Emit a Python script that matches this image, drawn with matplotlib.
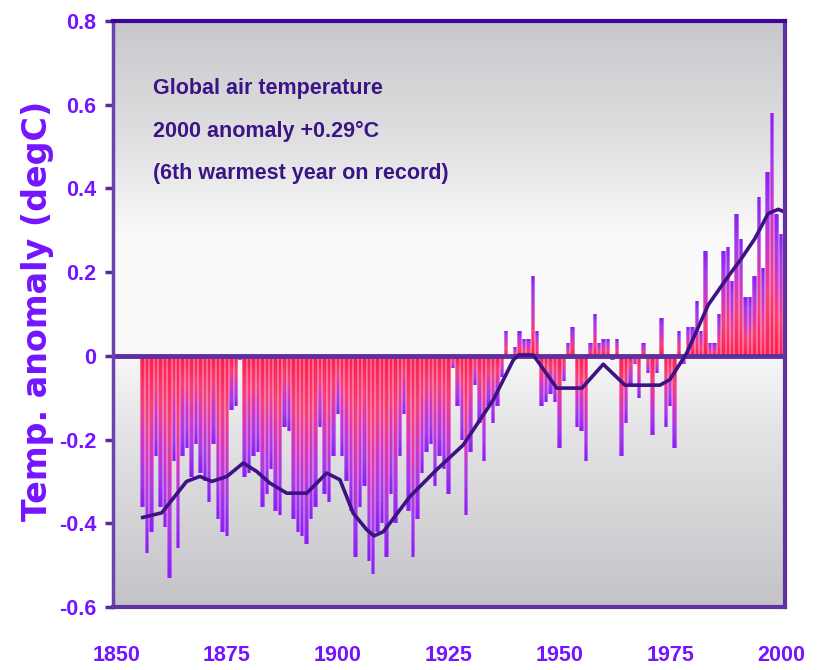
import numpy as np
import matplotlib
matplotlib.use("Agg")
import matplotlib.pyplot as plt
from matplotlib.collections import PolyCollection
from matplotlib.colors import LinearSegmentedColormap

# annual global anomalies (degC), 1856-2000
years = np.arange(1856, 2001)
anomaly = [
    -0.36, -0.47, -0.42, -0.24, -0.36, -0.41, -0.53, -0.25, -0.46, -0.24,   # 1856-65
    -0.22, -0.29, -0.21, -0.28, -0.30, -0.35, -0.21, -0.39, -0.42, -0.43,   # 1866-75
    -0.13, -0.12, -0.01, -0.29, -0.28, -0.24, -0.23, -0.36, -0.33, -0.27,   # 1876-85
    -0.37, -0.38, -0.17, -0.18, -0.39, -0.42, -0.43, -0.45, -0.39, -0.36,   # 1886-95
    -0.17, -0.33, -0.35, -0.24, -0.14, -0.24, -0.30, -0.37, -0.48, -0.36,   # 1896-1905
    -0.31, -0.49, -0.52, -0.42, -0.40, -0.48, -0.33, -0.40, -0.24, -0.14,   # 1906-15
    -0.37, -0.48, -0.39, -0.28, -0.23, -0.21, -0.31, -0.24, -0.27, -0.33,   # 1916-25
    -0.03, -0.12, -0.20, -0.38, -0.23, -0.07, -0.16, -0.25, -0.12, -0.16,   # 1926-35
    -0.12, -0.05, 0.06, 0.00, 0.02, 0.06, 0.04, 0.04, 0.19, 0.06,           # 1936-45
    -0.12, -0.11, -0.09, -0.11, -0.22, -0.06, 0.03, 0.07, -0.17, -0.18,     # 1946-55
    -0.25, 0.03, 0.10, 0.03, 0.04, 0.04, -0.01, 0.04, -0.24, -0.16,         # 1956-65
    -0.07, -0.02, -0.10, 0.03, -0.04, -0.19, -0.04, 0.09, -0.17, -0.12,     # 1966-75
    -0.22, 0.06, -0.02, 0.07, 0.07, 0.13, 0.06, 0.25, 0.03, 0.03,           # 1976-85
    0.10, 0.25, 0.26, 0.18, 0.34, 0.28, 0.14, 0.14, 0.19, 0.38,             # 1986-95
    0.21, 0.44, 0.58, 0.34, 0.29,                                           # 1996-2000
]

# smoothed curve, read as vertices
smooth_years = [1856, 1860.3, 1865.9, 1868.9, 1871.6, 1875.0, 1878.7, 1881.7,
                1884.7, 1888.5, 1893.0, 1897.5, 1900.5, 1903.5, 1906.6, 1908.2,
                1910.3, 1916.3, 1922.3, 1928.3, 1935.1, 1939.6, 1940.8, 1944.1,
                1945.6, 1949.4, 1955.1, 1959.9, 1964.8, 1972.7, 1974.9, 1978.7,
                1983.6, 1988.1, 1991.1, 1994.1, 1997.1, 1999.4, 2000.5]
smooth_vals = [-0.386, -0.375, -0.30, -0.288, -0.30, -0.288, -0.256, -0.276,
               -0.304, -0.328, -0.328, -0.28, -0.296, -0.376, -0.416, -0.43,
               -0.42, -0.336, -0.272, -0.213, -0.105, -0.01, 0.002, 0.002,
               -0.02, -0.077, -0.077, -0.02, -0.07, -0.07, -0.057, 0.006,
               0.122, 0.19, 0.233, 0.28, 0.34, 0.35, 0.345]

xticks = [1850, 1875, 1900, 1925, 1950, 1975, 2000]
yticks = [-0.6, -0.4, -0.2, 0, 0.2, 0.4, 0.6, 0.8]
ytick_labels = ["-0.6", "-0.4", "-0.2", "0", "0.2", "0.4", "0.6", "0.8"]
notes = ["Global air temperature", "2000 anomaly +0.29\u00b0C",
         "(6th warmest year on record)"]

LABEL_COL = "#7514ff"
NOTE_COL = "#3b1585"
FONT = ["Liberation Sans", "DejaVu Sans"]

assert len(anomaly) == len(years)

fig = plt.figure(figsize=(8.2, 6.7), dpi=100, facecolor="white")
ax = fig.add_axes([0.1378, 0.094, 0.8195, 0.8747])

xlo, xhi = 1849.3, 2000.9
ylo, yhi = -0.6, 0.8

# grey-white-grey background
bg_cmap = LinearSegmentedColormap.from_list(
    "bg", [(0.0, "#c4c4c8"), (0.3, "#e4e4e6"), (0.45, "#fafafa"),
           (0.62, "#fbfbfb"), (0.78, "#e2e2e4"), (1.0, "#c8c8cc")])
grad = np.linspace(0, 1, 256).reshape(-1, 1)
ax.imshow(grad, cmap=bg_cmap, extent=[xlo, xhi, ylo, yhi], origin="lower",
          aspect="auto", zorder=0, interpolation="bilinear")

# bar colours run red at the zero line to violet at the tip
bar_cmap = LinearSegmentedColormap.from_list(
    "bar", [(0.0, "#ff1d4e"), (0.3, "#f5407c"), (0.55, "#d236c4"),
            (0.8, "#a43ae8"), (1.0, "#8a1ef2")])
n_seg = 24
fracs = np.linspace(0, 1, n_seg + 1)
seg_cols = bar_cmap((fracs[:-1] + fracs[1:]) / 2)[:, :3]
pale_cols = seg_cols + (1 - seg_cols) * 0.3


def bar_segments(width):
    polys = []
    for yr, val in zip(years, anomaly):
        for k in range(n_seg):
            y0, y1 = val * fracs[k], val * fracs[k + 1]
            x0, x1 = yr - width / 2, yr + width / 2
            polys.append([(x0, y0), (x1, y0), (x1, y1), (x0, y1)])
    return polys


# lighter full-width bar with a narrower saturated core on top
ax.add_collection(PolyCollection(bar_segments(1.0),
                                 facecolors=np.tile(pale_cols, (len(years), 1)),
                                 edgecolors="none", antialiased=True, zorder=2))
ax.add_collection(PolyCollection(bar_segments(0.55),
                                 facecolors=np.tile(seg_cols, (len(years), 1)),
                                 edgecolors="none", antialiased=True, zorder=2.1))

ax.axhline(0, color="#5f2f9e", lw=3.5, zorder=3)
ax.plot(smooth_years, smooth_vals, color="#3d1284", lw=2.6, zorder=4,
        solid_joinstyle="round")

ax.set_xlim(xlo, xhi)
ax.set_ylim(ylo, yhi)

for name, col, lw in [("left", "#6b42b2", 2.5), ("top", "#3a0898", 3.0),
                      ("right", "#6232a4", 3.0), ("bottom", "#6232a4", 3.0)]:
    ax.spines[name].set_color(col)
    ax.spines[name].set_linewidth(lw)
    ax.spines[name].set_zorder(5)

ax.set_yticks(yticks)
ax.set_yticklabels(ytick_labels)
ax.set_xticks(xticks)
ax.set_xticklabels([str(x) for x in xticks])
ax.tick_params(axis="y", direction="out", length=6, width=2.5, color="#5a2a9a",
               pad=6, labelcolor=LABEL_COL)
ax.tick_params(axis="x", length=0, pad=27, labelcolor=LABEL_COL)
for lab in ax.get_yticklabels() + ax.get_xticklabels():
    lab.set_fontfamily(FONT)
    lab.set_fontweight("bold")
    lab.set_fontsize(15.5)

ax.set_ylabel("Temp. anomaly (degC)", color=LABEL_COL, fontsize=24,
              fontweight="bold", family=["DejaVu Sans"])
ax.yaxis.set_label_coords(-0.088, 0.505)

for i, line in enumerate(notes):
    ax.text(0.06, 0.885 - i * 0.073, line, transform=ax.transAxes,
            color=NOTE_COL, fontsize=15.5, fontweight="bold", family=FONT,
            va="center", ha="left", zorder=6)

fig.savefig("out.png", dpi=100, facecolor="white")
